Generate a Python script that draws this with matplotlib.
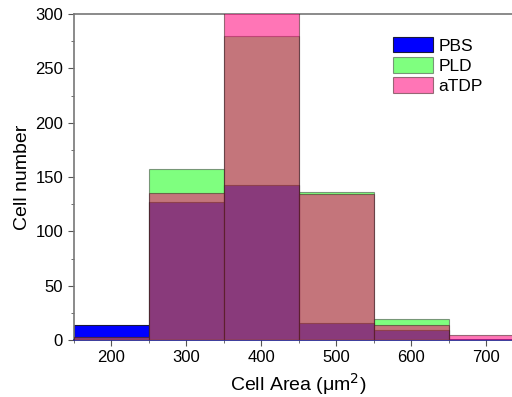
import matplotlib
matplotlib.use("Agg")
import matplotlib.pyplot as plt
from matplotlib.ticker import MultipleLocator

plt.rcParams['font.family'] = ['Liberation Sans', 'DejaVu Sans']

bin_centers = [200, 300, 400, 500, 600, 700]
pbs = [14, 127, 143, 16, 9, 0]
pld = [3, 157, 280, 136, 19, 0]
atdp = [3, 135, 305, 134, 14, 5]

fig = plt.figure(figsize=(5.12, 3.97), dpi=100)
ax = fig.add_axes([0.1436, 0.1436, 0.879, 0.821])

w = 100
ax.bar(bin_centers, pbs, width=w, color='#0000FF', edgecolor='#1a1a3a', linewidth=0.8, label='PBS', zorder=2)
ax.bar(bin_centers, pld, width=w, color='#00FF00', alpha=0.5, edgecolor='#303030', linewidth=0.8, label='PLD', zorder=3)
ax.bar(bin_centers, atdp, width=w, color='#FF0078', alpha=0.54, edgecolor='#402020', linewidth=0.8, label='aTDP', zorder=4)

ax.set_xlim(150, 750)
ax.set_ylim(0, 300)
ax.xaxis.set_major_locator(MultipleLocator(100))
ax.xaxis.set_minor_locator(MultipleLocator(50))
ax.yaxis.set_major_locator(MultipleLocator(50))
ax.yaxis.set_minor_locator(MultipleLocator(25))
ax.tick_params(which='both', direction='out', color='#555555', labelsize=12)
ax.tick_params(which='major', length=4)
ax.tick_params(which='minor', length=2.5)
for s in ['left', 'bottom', 'top']:
    ax.spines[s].set_color('#777777')
    ax.spines[s].set_linewidth(1.2)
ax.spines['right'].set_visible(False)
ax.spines['bottom'].set_color('#1a1a8a')

ax.set_xlabel('Cell Area (\u03bcm$^2$)', fontsize=14, labelpad=4)
ax.set_ylabel('Cell number', fontsize=14, labelpad=3)

ax.legend(loc='upper left', bbox_to_anchor=(0.71, 0.93), frameon=False, fontsize=12.5,
          handlelength=2.3, handleheight=1.0, labelspacing=0.2, handletextpad=0.3,
          borderaxespad=0, borderpad=0)

fig.savefig('out.png', dpi=100)
